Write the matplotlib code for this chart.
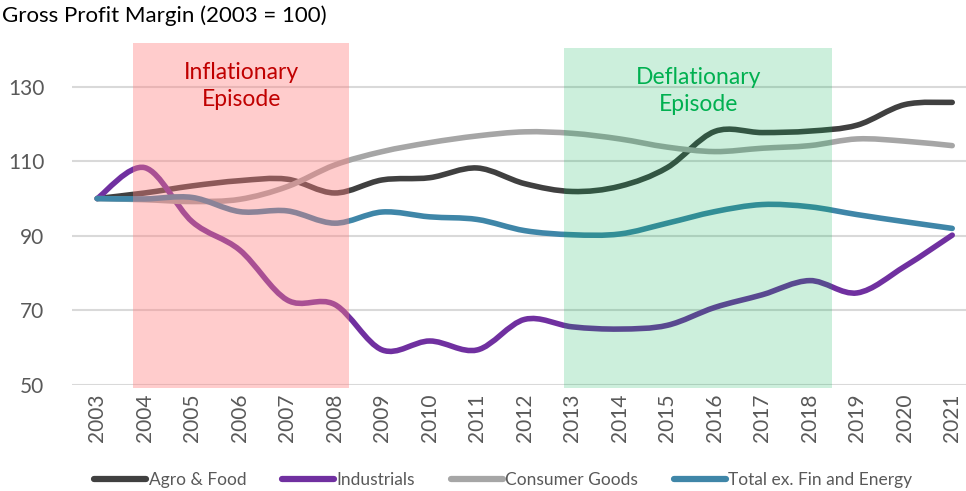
import matplotlib
matplotlib.use("Agg")
import matplotlib.pyplot as plt
import numpy as np
from matplotlib.path import Path
from matplotlib.patches import PathPatch, Rectangle
from matplotlib.lines import Line2D

years = list(range(2003, 2022))
agro = [100, 101.5, 103.4, 104.8, 105.2, 101.5, 105.0, 105.6, 108.2, 104.0, 101.9, 103.3, 108.3, 118.0, 117.7, 118.1, 119.7, 125.2, 125.8]
industrials = [100, 108.3, 93.8, 86.2, 72.8, 71.6, 59.4, 61.8, 59.4, 67.6, 65.6, 65.0, 66.0, 70.8, 74.2, 78.0, 74.7, 81.8, 90.2]
consumer = [100, 99.7, 99.2, 99.8, 103.2, 109.0, 112.6, 115.0, 116.8, 117.9, 117.5, 116.0, 113.8, 112.6, 113.5, 114.2, 116.0, 115.4, 114.2]
total = [100, 99.9, 100.3, 96.5, 96.7, 93.4, 96.4, 95.1, 94.4, 91.4, 90.3, 90.5, 93.4, 96.5, 98.4, 97.8, 95.7, 93.8, 92.0]

series_names = ["Agro & Food", "Industrials", "Consumer Goods", "Total ex. Fin and Energy"]
series_values = [agro, industrials, consumer, total]
colors = ["#404040", "#7030A0", "#A6A6A6", "#3F86A8"]

episodes = [("Inflationary\nEpisode", 2003.76, 2008.3, 141.8, "#FF8080", 0.4, "#C00000"),
            ("Deflationary\nEpisode", 2012.83, 2018.47, 140.5, "#00B050", 0.2, "#00B050")]

FONT = "Lato"
plt.rcParams['font.family'] = [FONT, 'DejaVu Sans']

fig = plt.figure(figsize=(9.66, 4.91), dpi=100)
ax = fig.add_axes([72/966, 0.2159, 1 - 72/966, 0.9145 - 0.2159])
ax.set_xlim(2002.47, 2021.29)
ax.set_ylim(50, 142)


def smooth_path(x, y):
    x = np.asarray(x, float); y = np.asarray(y, float)
    n = len(x)
    verts = [(x[0], y[0])]
    codes = [Path.MOVETO]
    for i in range(n - 1):
        p0 = np.array([x[max(i - 1, 0)], y[max(i - 1, 0)]])
        p1 = np.array([x[i], y[i]])
        p2 = np.array([x[i + 1], y[i + 1]])
        p3 = np.array([x[min(i + 2, n - 1)], y[min(i + 2, n - 1)]])
        c1 = p1 + (p2 - p0) / 6
        c2 = p2 - (p3 - p1) / 6
        verts += [tuple(c1), tuple(c2), tuple(p2)]
        codes += [Path.CURVE4] * 3
    return Path(verts, codes)


for v in [50, 70, 90, 110, 130]:
    ax.axhline(v, color="#D9D9D9", lw=1.5, zorder=1)

for name, vals, c in zip(series_names, series_values, colors):
    patch = PathPatch(smooth_path(years, vals), facecolor="none", edgecolor=c,
                      lw=4, capstyle="round", joinstyle="round", zorder=3)
    ax.add_patch(patch)

for label, x0, x1, top, fc, al, tc in episodes:
    ax.add_patch(Rectangle((x0, 49.2), x1 - x0, top - 49.2, facecolor=fc, alpha=al,
                           edgecolor="none", zorder=4, clip_on=False))
    ax.text((x0 + x1) / 2, top - 5.2, label, ha="center", va="top", color=tc,
            fontsize=16.5, linespacing=1.35, zorder=5)

ax.set_yticks([50, 70, 90, 110, 130])
ax.set_xticks(years)
ax.set_xticklabels([str(y) for y in years], rotation=90)
ax.tick_params(axis="both", length=0, labelsize=15, labelcolor="#595959")
ax.tick_params(axis="y", pad=20)
ax.tick_params(axis="x", pad=6)
for t in ax.get_yticklabels():
    t.set_horizontalalignment("right")
for s in ax.spines.values():
    s.set_visible(False)

fig.text(0.002, 0.988, "Gross Profit Margin (2003 = 100)", ha="left", va="top",
         fontsize=16, color="#000000")

handles = [Line2D([], [], color=c, lw=4.5, solid_capstyle="round") for c in colors]
fig.legend(handles, series_names, loc="center", bbox_to_anchor=(0.521, 0.022), ncol=4,
           frameon=False, fontsize=12.5, handlelength=3.0, handletextpad=0.15,
           columnspacing=2.05, labelcolor="#595959")

fig.savefig("out.png", dpi=100)
